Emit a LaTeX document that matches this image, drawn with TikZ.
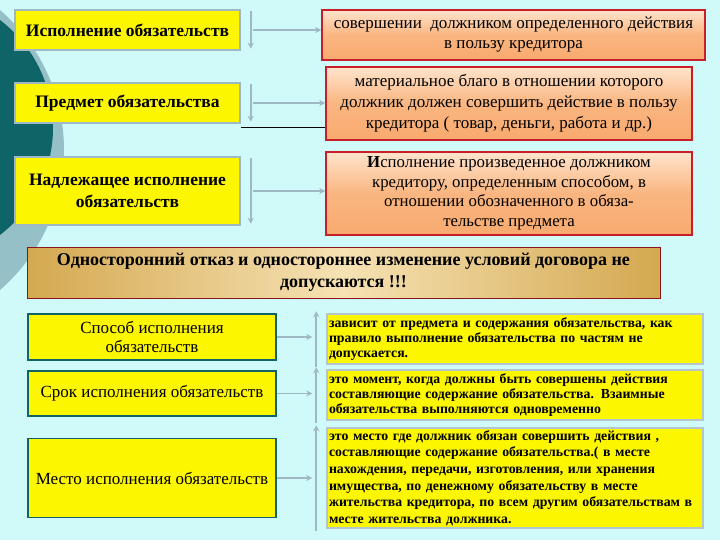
\documentclass[tikz,border=0pt]{standalone}
\usepackage{fontspec}
\setmainfont{Liberation Serif}
\usetikzlibrary{arrows.meta,calc}

\definecolor{bgcyan}{RGB}{208,250,250}
\definecolor{darkteal}{RGB}{14,100,102}
\definecolor{paleteal}{RGB}{150,192,200}
\definecolor{boxyellow}{RGB}{252,246,0}
\definecolor{linkgray}{RGB}{160,184,196}
\definecolor{redframe}{RGB}{200,30,40}
\definecolor{peachtop}{RGB}{255,228,204}
\definecolor{peachmid}{RGB}{248,170,110}
\definecolor{goldside}{RGB}{212,168,80}
\definecolor{goldmid}{RGB}{246,226,180}

\tikzset{
  termbox/.style={draw=linkgray, line width=1.5pt, fill=boxyellow, align=center,
    font=\fontsize{17.5}{22}\selectfont\bfseries, inner sep=1pt},
  defbox/.style={draw=redframe, line width=1.5pt, top color=peachtop, bottom color=peachmid,
    middle color=peachmid!80!peachtop, align=center, font=\fontsize{17}{21}\selectfont, inner sep=1pt},
  ruleband/.style={draw=redframe!70!black, line width=1pt, left color=goldside, right color=goldside,
    middle color=goldmid, align=center, font=\fontsize{18}{22}\selectfont\bfseries, inner sep=1pt},
  waybox/.style={draw=darkteal, line width=1.5pt, fill=boxyellow, align=center,
    font=\fontsize{17}{19}\selectfont, inner sep=1pt},
  notebox/.style={draw=linkgray!80, line width=1.5pt, fill=boxyellow, align=left,
    font=\fontsize{13.8}{16.6}\selectfont\bfseries, inner sep=2pt, text width=372},
  link/.style={draw=linkgray, line width=1.6pt, -{Stealth[length=6pt,width=6pt]}},
  bar/.style={draw=linkgray, line width=1.6pt}
}

\begin{document}
\begin{tikzpicture}[x=1pt,y=-1pt]
\useasboundingbox (0,0) rectangle (720,540);
\fill[bgcyan] (0,0) rectangle (720,540);

% circles behind on the left
\begin{scope}
\clip (0,0) rectangle (720,540);
\fill[paleteal] (-121,150) circle (185);
\fill[darkteal] (-82.5,127.5) circle (135.5);
\end{scope}

% upper block
\node[termbox, minimum width=225, minimum height=40] (isp) at (127.5,30) {Исполнение обязательств};
\node[termbox, minimum width=225, minimum height=40] (pred) at (127.5,103) {Предмет обязательства};
\node[termbox, minimum width=225, minimum height=68] (nadl) at (127.5,191) {Надлежащее исполнение\\обязательств};

\node[defbox, minimum width=383, minimum height=50, font=\fontsize{17}{20}\selectfont] (dejst) at (513.5,35)
  {совершении\ \ должником определенного действия\\в пользу кредитора};
\node[defbox, minimum width=366, minimum height=73] (blago) at (509,103.5)
  {материальное благо в отношении которого\\должник должен совершить действие в пользу\\кредитора ( товар, деньги, работа и др.)};
\node[defbox, minimum width=366, minimum height=83, font=\fontsize{16.8}{19.5}\selectfont] (sposob) at (509,193.5)
  {\textbf{И}сполнение произведенное должником\\кредитору, определенным способом, в\\отношении обозначенного в обяза-\\тельстве предмета};

\foreach \t/\d in {isp/dejst, pred/blago, nadl/sposob}
{
  \draw[link] ([xshift=10,yshift=-2]\t.north east) -- ([xshift=10,yshift=2]\t.south east);
  \draw[link] ($(\t.east)+(12,0)$) -- (\t.east -| \d.west);
}
\draw[black, thin] ([yshift=-3]pred.south east) -- ([yshift=-3]pred.south east -| blago.west);

% banner
\node[ruleband, minimum width=633, minimum height=51] (otkaz) at (343.5,272.5)
  {Односторонний отказ и одностороннее изменение условий договора не\\допускаются !!!};

% lower block
\node[waybox, minimum width=248, minimum height=46] (spos) at (152,337) {Способ исполнения\\обязательств};
\node[waybox, minimum width=248, minimum height=45] (srok) at (152,393.5) {Срок исполнения обязательств};
\node[waybox, minimum width=248, minimum height=79] (mesto) at (152,478) {Место исполнения обязательств};

\node[notebox, minimum width=376, minimum height=50, font=\fontsize{13.8}{15.4}\selectfont\bfseries] (zav) at (515,339)
  {зависит от предмета и содержания обязательства, как\\правило выполнение обязательства по частям не\\допускается.};
\node[notebox, minimum width=376, minimum height=50, font=\fontsize{13.8}{15.4}\selectfont\bfseries] (mom) at (515,395)
  {это момент, когда должны быть совершены действия\\составляющие содержание обязательства. Взаимные\\обязательства выполняются одновременно};
\node[notebox, minimum width=376, minimum height=100] (gde) at (515,478)
  {это место где должник обязан совершить действия ,\\составляющие содержание обязательства.( в месте\\нахождения, передачи, изготовления, или хранения\\имущества, по денежному обязательству в месте\\жительства кредитора, по всем другим обязательствам в\\месте жительства должника.};

\foreach \w/\n in {spos/zav, srok/mom, mesto/gde}
{
  \draw[link] ([xshift=-10,yshift=-2]\n.south west) -- ([xshift=-10,yshift=2]\n.north west);
  \draw[link] (\w.east) -- ($(\w.east -| \n.west)+(-14,0)$);
}
\end{tikzpicture}
\end{document}
